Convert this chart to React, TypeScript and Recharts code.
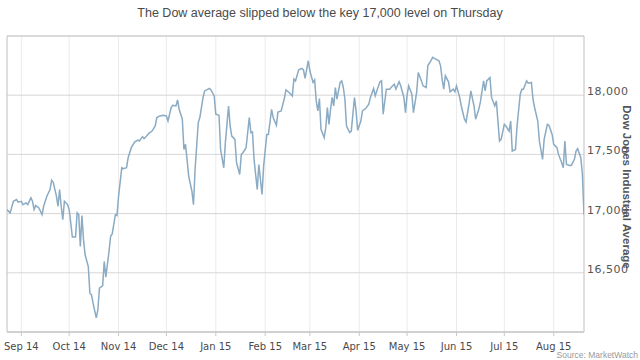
import React from 'react';
import { LineChart, Line, XAxis, YAxis, CartesianGrid, ReferenceArea } from 'recharts';

// days since 2014-09-01
const days = [
  -9, -7, -5, -3, -2, 0, 1, 3, 4, 6, 7, 8, 9, 11, 13, 14, 16, 18, 19, 20,
  22, 23, 24, 25, 26, 27, 29, 30, 31, 32, 34, 35, 36, 37, 38, 39, 40, 42, 43, 44,
  45, 47, 48, 49, 51, 52, 53, 55, 56, 57, 59, 60, 61, 63, 64, 66, 67, 69, 71, 73,
  74, 76, 77, 79, 80, 82, 84, 85, 87, 89, 91, 92, 94, 95, 97, 98, 99, 101, 102, 103,
  105, 107, 108, 109, 111, 112, 114, 115, 118, 119, 121, 122, 124, 125, 127, 128, 130, 131, 132, 134,
  135, 137, 138, 139, 141, 143, 144, 145, 146, 148, 149, 151, 152, 154, 155, 157, 158, 160, 161, 163,
  165, 166, 168, 170, 171, 172, 174, 176, 177, 178, 180, 181, 183, 184, 185, 186, 187, 188, 190, 191,
  192, 193, 194, 195, 196, 197, 198, 200, 201, 202, 203, 204, 206, 207, 209, 210, 211, 213, 214, 216,
  218, 219, 221, 222, 223, 225, 226, 227, 229, 231, 233, 234, 235, 237, 238, 240, 241, 242, 243, 245,
  246, 248, 249, 251, 252, 254, 255, 257, 258, 260, 262, 263, 264, 265, 266, 268, 269, 271, 272, 273,
  275, 276, 278, 279, 281, 282, 284, 285, 287, 288, 290, 291, 292, 294, 295, 297, 298, 300, 301, 303,
  304, 306, 307, 308, 310, 311, 313, 314, 315, 317, 318, 320, 321, 322, 324, 325, 327, 328, 330, 331,
  333, 334, 336, 337, 339, 340, 341, 342, 344, 345, 347, 348, 349, 351, 352, 353,
];

const closes = [
  17034, 17006, 17104, 17119, 17096, 17104, 17076, 17091, 17076, 17133, 17104, 17034, 17068, 17048, 16991, 17062, 17147, 17203, 17282, 17265,
  17147, 17062, 17203, 17062, 16949, 17104, 17076, 17034, 16921, 16802, 16802, 17006, 16991, 16723, 16983, 16780, 16652, 16553, 16328, 16313,
  16243, 16120, 16186, 16370, 16390, 16596, 16463, 16680, 16808, 16828, 16991, 16983, 17147, 17387, 17379, 17387, 17472, 17557, 17604, 17621,
  17613, 17650, 17633, 17661, 17678, 17697, 17740, 17811, 17825, 17830, 17825, 17782, 17896, 17915, 17909, 17960, 17881, 17797, 17542, 17585,
  17316, 17189, 17076, 17373, 17769, 17811, 17981, 18036, 18057, 18045, 17994, 17839, 17830, 17542, 17387, 17599, 17909, 17740, 17655, 17627,
  17430, 17330, 17500, 17514, 17557, 17811, 17684, 17689, 17458, 17203, 17415, 17161, 17401, 17669, 17669, 17881, 17811, 17746, 17858, 17867,
  17972, 18045, 18023, 17994, 18136, 18121, 18214, 18226, 18214, 18142, 18291, 18206, 18108, 18130, 17952, 17867, 17972, 17712, 17642, 17726,
  17896, 17754, 17881, 17981, 17909, 18065, 17966, 18108, 18121, 18065, 17966, 17740, 17684, 17697, 17981, 17867, 17703, 17782, 17867, 17887,
  17924, 17981, 18057, 17994, 18036, 18113, 18121, 17839, 18051, 18051, 18079, 18093, 18051, 18113, 18079, 17981, 17853, 18000, 18079, 18008,
  17853, 18023, 18192, 18121, 18079, 18065, 18248, 18291, 18320, 18305, 18291, 18248, 18136, 18051, 18164, 18113, 18028, 18051, 18028, 18079,
  17981, 17909, 17797, 17774, 17938, 18036, 17909, 17797, 17881, 17943, 18121, 18036, 18121, 18150, 17981, 17909, 17952, 17613, 17627, 17754,
  17740, 17697, 17782, 17528, 17542, 17740, 18008, 18051, 18051, 18121, 18102, 18108, 17966, 17896, 17782, 17613, 17458, 17627, 17754, 17746,
  17669, 17585, 17557, 17500, 17430, 17387, 17613, 17415, 17407, 17407, 17458, 17528, 17548, 17472, 17330, 16990,
];

const monthTicks = [0, 30, 61, 91, 122, 153, 181, 212, 242, 273, 303, 334];
const monthLabels = ['Sep 14', 'Oct 14', 'Nov 14', 'Dec 14', 'Jan 15', 'Feb 15', 'Mar 15', 'Apr 15', 'May 15', 'Jun 15', 'Jul 15', 'Aug 15'];
const yTicks = [16500, 17000, 17500, 18000];

const titleText = 'The Dow average slipped below the key 17,000 level on Thursday';
const yAxisTitle = 'Dow Jones Industrial Average';
const sourceText = 'Source: MarketWatch';

const data = days.map((d, i) => ({ day: d, close: closes[i] }));

export default function App() {
  return (
    <div style={{ position: 'absolute', left: 0, top: 0, width: 640, height: 360, background: '#fff', fontFamily: '"Liberation Sans", Arial, sans-serif' }}>
      <LineChart width={640} height={360} data={data} margin={{ top: 36, left: 7, right: 0, bottom: 0 }}>
        <CartesianGrid horizontal={false} stroke="#ebebeb" />
        <CartesianGrid vertical={false} stroke="#d6d6d6" />
        <ReferenceArea x1={-9} x2={353} y1={16000} y2={18500} fill="none" fillOpacity={0} stroke="#c8c8c8" strokeOpacity={1} />
        <XAxis
          type="number"
          dataKey="day"
          domain={[-9, 353]}
          ticks={monthTicks}
          interval={0}
          allowDataOverflow
          height={28}
          tickSize={4}
          tickMargin={7}
          axisLine={{ stroke: '#c8c8c8' }}
          tickLine={{ stroke: '#c8c8c8' }}
          tick={{ fill: '#4a4a4a', fontSize: 10, fontFamily: 'DejaVu Sans' }}
          tickFormatter={(v: number) => monthLabels[monthTicks.indexOf(v)] ?? ''}
        />
        <YAxis
          orientation="right"
          type="number"
          domain={[16000, 18500]}
          ticks={yTicks}
          interval={0}
          allowDataOverflow
          width={56}
          tickSize={0}
          tickMargin={3}
          axisLine={false}
          tickLine={false}
          tick={{ fill: '#555', fontSize: 11, fontFamily: 'DejaVu Sans', dy: -4, letterSpacing: 0.5 }}
          tickFormatter={(v: number) => v.toLocaleString('en-US')}
        />
        <Line
          type="linear"
          dataKey="close"
          stroke="#8aabc3"
          strokeWidth={1.5}
          dot={false}
          isAnimationActive={false}
        />
      </LineChart>
      <div style={{ position: 'absolute', left: 0, top: 6, width: 640, textAlign: 'center', fontSize: 12.5, color: '#4a4a4a', whiteSpace: 'nowrap' }}>
        {titleText}
      </div>
      <div style={{ position: 'absolute', left: 627, top: 187, transform: 'translate(-50%, -50%) rotate(90deg)', whiteSpace: 'nowrap', fontSize: 11.5, fontWeight: 'bold', color: '#555' }}>
        {yAxisTitle}
      </div>
      <div style={{ position: 'absolute', right: 2, top: 350, fontSize: 8.5, color: '#999', whiteSpace: 'nowrap' }}>
        {sourceText}
      </div>
    </div>
  );
}
